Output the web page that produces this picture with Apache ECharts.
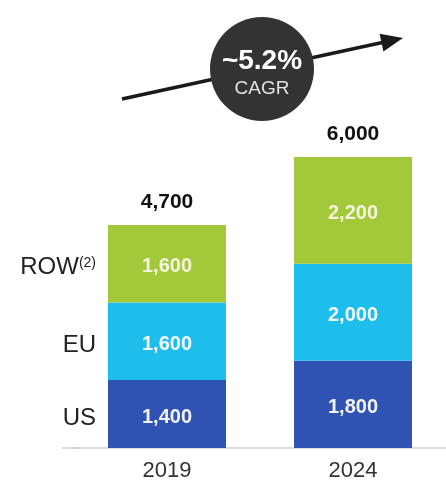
<!DOCTYPE html>
<html>
<head>
<meta charset="utf-8">
<script src="https://cdn.jsdelivr.net/npm/echarts@6/dist/echarts.min.js"></script>
<style>
  html, body { margin: 0; padding: 0; background: #fff; }
  #chart { width: 446px; height: 483px; }
</style>
</head>
<body>
<div id="chart"></div>
<script>
// Market size by region, stacked per year
const years = ['2019', '2024'];
const regions = ['US', 'EU', 'ROW'];
const usValues = [1400, 1800];
const euValues = [1600, 2000];
const rowValues = [1600, 2200];
const totals = [4700, 6000];
const cagrText = '~5.2%';
const cagrCaption = 'CAGR';

const FONT = '"Liberation Sans", Arial, sans-serif';
const colors = { US: '#2f53b3', EU: '#1dbdec', ROW: '#a3c83a' };
const valueLabelColor = { US: '#f2f2f2', EU: '#f2f8fa', ROW: '#f4f4dc' };

const fmt = v => v.toLocaleString('en-US');

const seriesValues = { US: usValues, EU: euValues, ROW: rowValues };

const chart = echarts.init(document.getElementById('chart'), null, { renderer: 'canvas' });

const mainSeries = regions.map(r => ({
  name: r,
  type: 'bar',
  stack: 'main',
  barWidth: 118,
  data: seriesValues[r],
  itemStyle: { color: colors[r] },
  label: {
    show: true,
    position: 'inside',
    offset: [0, 3],
    formatter: p => fmt(p.value),
    color: valueLabelColor[r],
    fontFamily: FONT,
    fontWeight: 'bold',
    fontSize: 20
  },
  z: 3
}));

// Region names beside the first bar (transparent overlay stack)
const nameSeries = regions.map(r => ({
  name: r + '-name',
  type: 'bar',
  stack: 'names',
  barWidth: 118,
  barGap: '-100%',
  data: [seriesValues[r][0], '-'],
  itemStyle: { color: 'rgba(0,0,0,0)' },
  label: {
    show: true,
    position: 'left',
    distance: 12,
    offset: [0, 4],
    formatter: r === 'ROW' ? '{a|ROW}{s|(2)}' : r,
    color: '#222',
    fontFamily: FONT,
    fontSize: 24,
    rich: {
      a: { fontFamily: FONT, fontSize: 24, color: '#222' },
      s: { fontFamily: FONT, fontSize: 14, color: '#222', verticalAlign: 'top', padding: [0, 0, 10, 0] }
    }
  },
  silent: true,
  z: 1
}));

// Totals above each stack
const totalSeries = {
  name: 'total',
  type: 'bar',
  stack: 'main',
  barWidth: 118,
  data: [0, 0],
  itemStyle: { color: 'rgba(0,0,0,0)' },
  label: {
    show: true,
    position: 'top',
    distance: 12,
    formatter: p => fmt(totals[p.dataIndex]),
    color: '#111',
    fontFamily: FONT,
    fontWeight: 'bold',
    fontSize: 21
  },
  silent: true
};

// CAGR arrow and badge
const tip = [403, 38];
const start = [122, 99];
const dx = tip[0] - start[0], dy = tip[1] - start[1];
const len = Math.hypot(dx, dy);
const ux = dx / len, uy = dy / len;
const nx = -uy, ny = ux;
const headLen = 22, headHalf = 9;
const base = [tip[0] - headLen * ux, tip[1] - headLen * uy];

chart.setOption({
  animation: false,
  backgroundColor: '#fff',
  grid: { left: 74, right: 0, top: 157, bottom: 35 },
  xAxis: {
    type: 'category',
    data: years,
    axisLine: { show: true, lineStyle: { color: '#cfcfcf', width: 1.5 } },
    axisTick: { show: false },
    axisLabel: { color: '#333', fontFamily: FONT, fontSize: 22, margin: 12 }
  },
  yAxis: {
    type: 'value',
    min: 0,
    max: 6000,
    show: false,
    splitLine: { show: false }
  },
  series: [...mainSeries, totalSeries, ...nameSeries],
  graphic: [
    {
      type: 'line',
      shape: { x1: 62, y1: 448, x2: 80, y2: 448 },
      style: { stroke: '#cfcfcf', lineWidth: 1.5 },
      z: 1
    },
    {
      type: 'line',
      shape: { x1: start[0], y1: start[1], x2: base[0] + 2 * ux, y2: base[1] + 2 * uy },
      style: { stroke: '#1a1a1a', lineWidth: 3.5 },
      z: 10
    },
    {
      type: 'polygon',
      shape: {
        points: [
          tip,
          [base[0] + headHalf * nx, base[1] + headHalf * ny],
          [base[0] - headHalf * nx, base[1] - headHalf * ny]
        ]
      },
      style: { fill: '#1a1a1a' },
      z: 10
    },
    {
      type: 'circle',
      shape: { cx: 262, cy: 69, r: 52 },
      style: { fill: '#333333' },
      z: 11
    },
    {
      type: 'text',
      x: 262, y: 61,
      style: {
        text: cagrText, fill: '#ffffff', fontFamily: FONT, fontWeight: 'bold', fontSize: 28,
        align: 'center', verticalAlign: 'middle'
      },
      z: 12
    },
    {
      type: 'text',
      x: 262, y: 89,
      style: {
        text: cagrCaption, fill: '#e2e2e2', fontFamily: FONT, fontSize: 19,
        align: 'center', verticalAlign: 'middle'
      },
      z: 12
    }
  ]
});
</script>
</body>
</html>
